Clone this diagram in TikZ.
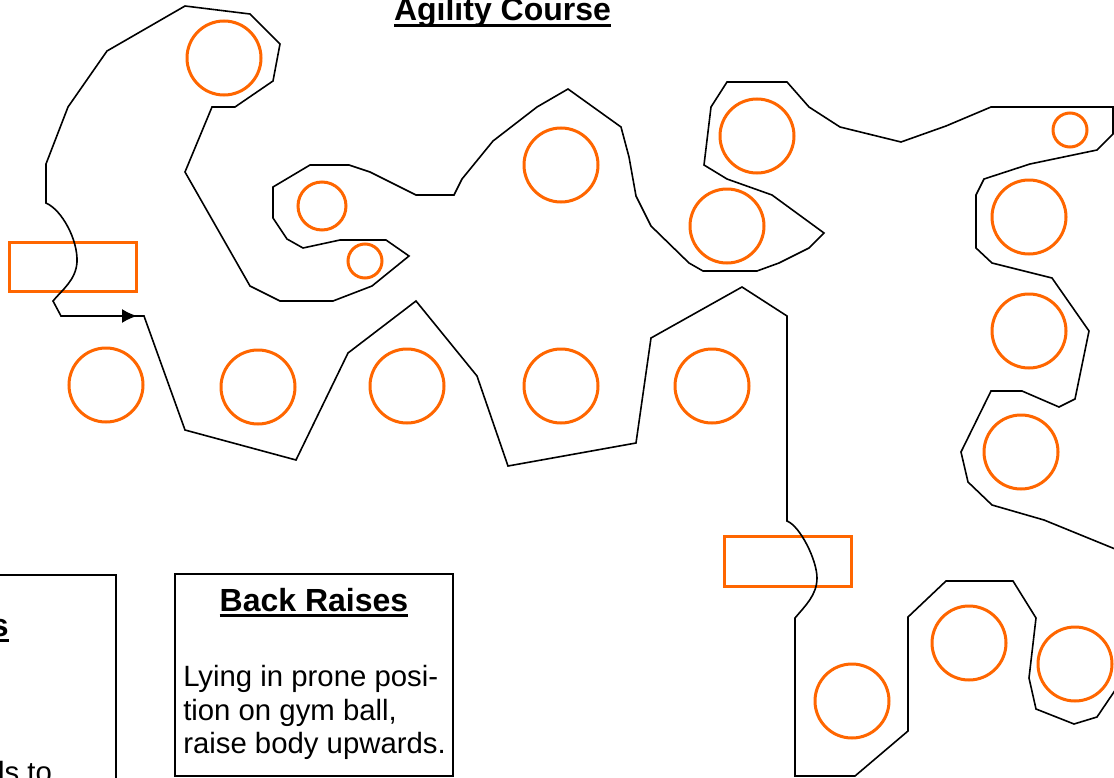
\documentclass[tikz,border=0pt]{standalone}
\usepackage{fontspec}
\setmainfont{Liberation Sans}
\usetikzlibrary{arrows.meta}
\definecolor{ballorange}{HTML}{FF6600}
\newcommand\ulbox[1]{\leavevmode\setbox0\hbox{#1}\rlap{\rule[-0.19em]{\wd0}{0.085em}}\box0}
\begin{document}
\begin{tikzpicture}[x=0.75pt,y=-0.75pt,
  course/.style={line width=1.2pt, line join=miter},
  ball/.style={draw=ballorange, line width=2.25pt},
  mat/.style={draw=ballorange, line width=2.25pt},
  card/.style={draw=black, line width=1.1pt, fill=white},
  head/.style={inner sep=0pt, font=\fontsize{24}{28}\selectfont\bfseries},
  body/.style={inner sep=0pt, font=\fontsize{22}{25}\selectfont}]
\path[use as bounding box] (0,0) rectangle (1114,778);
\clip (0,0) rectangle (1114,778);
% title
\node[head, anchor=base] (title) at (502.5,21) {\ulbox{Agility Course}};
% mats
\draw[mat] (9,242) rectangle (136,291);
\draw[mat] (724,536) rectangle (851,586);
% course path
\draw[course] (1120,551) -- (1044,520) -- (992,505) -- (968,482) -- (961,452) -- (991,391) -- (1022,391) -- (1059,407) -- (1075,399) -- (1089,331) -- (1052,278) -- (992,263) -- (976,248) -- (976,195) -- (984,179) -- (1030,164) -- (1097,150) -- (1113,134) -- (1113,107) -- (991,107) -- (946,126) -- (901,142) -- (840,127) -- (809,107) -- (787,82) -- (727,82) -- (711,107) -- (704,165) -- (727,179) -- (772,195) -- (824,233) -- (809,248) -- (779,263) -- (757,271) -- (703,271) -- (689,263) -- (651,226) -- (636,196) -- (629,157) -- (621,127) -- (568,89) -- (537,107) -- (493,141) -- (462,179) -- (454,195) -- (416,195) -- (370,172) -- (349,165) -- (310,165) -- (273,187) -- (273,218) -- (287,239) -- (303,248) -- (340,240) -- (386,240) -- (409,256) -- (372,286) -- (333,301) -- (280,301) -- (250,286) -- (185,172) -- (212,107) -- (235,107) -- (273,81) -- (280,44) -- (250,14) -- (185,6) -- (107,51) -- (68,107) -- (46,164) -- (46,203) .. controls (62,210) and (78,240) .. (77,262) .. controls (76,280) and (62,290) .. (53,301) -- (61,316) -- (144,316) -- (185,430) -- (296,460) -- (348,353) -- (416,301) -- (477,376) -- (508,466) -- (636,443) -- (651,338) -- (742,287) -- (787,316) -- (787,521) .. controls (800,526) and (817,560) .. (817,578) .. controls (817,595) and (805,606) .. (795,618) -- (795,776) -- (855,776) -- (908,731) -- (908,617) -- (946,581) -- (1013,581) -- (1036,618) -- (1029,678) -- (1036,709) -- (1074,724) -- (1097,717) -- (1120,683);
\coordinate (arrS) at (61,316);
\coordinate (arrE) at (137,316);
\draw[course, -{Latex[length=11.25pt,width=10.5pt]}] (arrS) -- (arrE);
% balls
\foreach \cx/\cy/\r in {224/58/37, 322/206/24, 365/261/17, 561/165/37, 757/136/37, 727/226/37,
  1070/130/17, 1029/217/37, 1029/331/37, 1021/452/37,
  106/385/37, 258/387/37, 407/386/37, 561/386/37, 712/386/37,
  852/701/37, 969/643/37, 1075/664/37}
  \draw[ball] (\cx,\cy) circle[radius=\r];
% exercise cards
\draw[card] (-20,575) rectangle (116,800);
\node[head, anchor=base east] (leftHead) at (9,636) {\ulbox{s}};
\node[body, anchor=base west] (leftBody) at (-12,782) {ds to};
\draw[card] (175,574) rectangle (453,776);
\node[head, anchor=base] (brHead) at (314,611) {\ulbox{Back Raises}};
\node[body, anchor=base west] (brL1) at (183,686) {Lying in prone posi-};
\node[body, anchor=base west] (brL2) at (183,720) {tion on gym ball,};
\node[body, anchor=base west] (brL3) at (183,753) {raise body upwards.};
\end{tikzpicture}
\end{document}
